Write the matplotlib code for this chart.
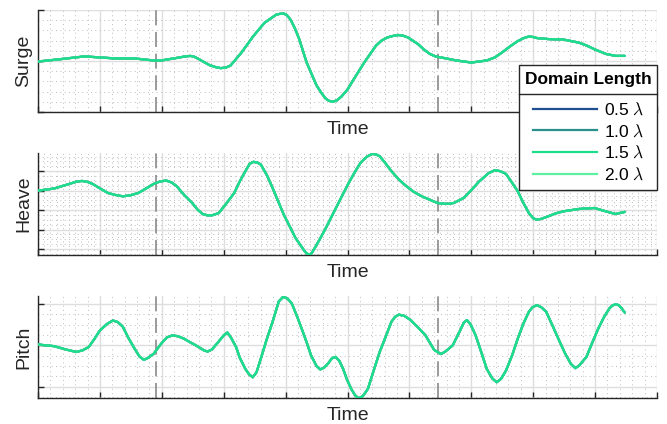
import numpy as np
import matplotlib
matplotlib.use("Agg")
import matplotlib.pyplot as plt
from matplotlib.ticker import MultipleLocator
from matplotlib.lines import Line2D
from matplotlib.patches import Rectangle

plt.rcParams['font.family'] = ['Liberation Sans', 'DejaVu Sans']
plt.rcParams['mathtext.fontset'] = 'cm'

# ---------------- data ----------------
series_labels = [r'0.5 $\lambda$', r'1.0 $\lambda$', r'1.5 $\lambda$', r'2.0 $\lambda$']
series_colors = ['#1f4f8f', '#2b8f8c', '#1ddc8c', '#5cf2a2']
legend_title = 'Domain Length'
panel_names = ['Surge', 'Heave', 'Pitch']
event_times = [1.9, 6.46]

surge_t = [0, 0.32, 0.75, 1.0, 1.25, 1.56, 1.87, 1.99, 2.24, 2.38, 2.46, 2.52, 2.58, 2.68,
           2.77, 2.87, 2.95, 3.03, 3.11, 3.29, 3.48, 3.66, 3.85, 3.91, 3.97, 4.02, 4.08,
           4.15, 4.22, 4.34, 4.50, 4.58, 4.65, 4.70, 4.76, 4.83, 4.90, 5.0, 5.09, 5.27,
           5.46, 5.55, 5.64, 5.73, 5.82, 5.90, 5.98, 6.14, 6.23, 6.33, 6.42, 6.51, 6.76,
           7.0, 7.25, 7.38, 7.50, 7.63, 7.75, 7.85, 7.93, 8.0, 8.06, 8.24, 8.49, 8.74,
           8.87, 8.99, 9.17, 9.33, 9.48]
surge_v = [-0.01, 0.03, 0.09, 0.07, 0.05, 0.05, 0.01, 0.01, 0.06, 0.09, 0.10, 0.085, 0.05, -0.02,
           -0.08, -0.12, -0.14, -0.13, -0.09, 0.17, 0.49, 0.75, 0.91, 0.925, 0.93, 0.90, 0.81,
           0.64, 0.43, -0.03, -0.48, -0.63, -0.74, -0.78, -0.80, -0.77, -0.70, -0.56, -0.38, -0.03,
           0.30, 0.40, 0.46, 0.49, 0.51, 0.495, 0.46, 0.33, 0.23, 0.14, 0.09, 0.07, 0.01,
           -0.03, 0.01, 0.07, 0.17, 0.29, 0.39, 0.45, 0.48, 0.47, 0.45, 0.43, 0.42, 0.36,
           0.30, 0.23, 0.14, 0.10, 0.10]

heave_t = [0, 0.26, 0.51, 0.62, 0.71, 0.80, 0.88, 1.0, 1.13, 1.25, 1.37, 1.49, 1.62, 1.75,
           1.87, 1.97, 2.07, 2.16, 2.24, 2.36, 2.49, 2.58, 2.66, 2.74, 2.82, 2.92, 3.04,
           3.17, 3.26, 3.35, 3.42, 3.48, 3.54, 3.60, 3.70, 3.79, 3.97, 4.16, 4.31, 4.34,
           4.38, 4.42, 4.47, 4.56, 4.65, 4.84, 5.02, 5.12, 5.21, 5.31, 5.40, 5.46, 5.52,
           5.61, 5.71, 5.83, 5.95, 6.07, 6.20, 6.45, 6.54, 6.63, 6.72, 6.88, 7.0, 7.13,
           7.28, 7.38, 7.47, 7.56, 7.65, 7.75, 7.84, 7.93, 8.0, 8.06, 8.13, 8.24, 8.36,
           8.49, 8.74, 8.99, 9.17, 9.33, 9.48]
heave_v = [3.0, 3.11, 3.35, 3.46, 3.50, 3.45, 3.35, 3.12, 2.88, 2.78, 2.71, 2.76, 2.88, 3.12,
           3.35, 3.47, 3.52, 3.42, 3.23, 2.78, 2.37, 2.02, 1.80, 1.73, 1.74, 1.85, 2.33,
           2.88, 3.48, 4.0, 4.38, 4.48, 4.45, 4.34, 3.78, 3.14, 1.77, 0.57, -0.12, -0.22,
           -0.29, -0.22, 0.05, 0.55, 1.08, 2.28, 3.40, 3.96, 4.43, 4.74, 4.89, 4.86, 4.77,
           4.42, 4.0, 3.57, 3.23, 2.94, 2.71, 2.37, 2.33, 2.32, 2.37, 2.63, 3.03, 3.48,
           3.90, 4.05, 4.0, 3.86, 3.45, 2.97, 2.38, 1.85, 1.58, 1.51, 1.55, 1.68, 1.83,
           1.94, 2.06, 2.11, 1.94, 1.80, 1.91]

pitch_t = [0, 0.26, 0.45, 0.62, 0.72, 0.82, 0.91, 1.0, 1.12, 1.21, 1.29, 1.37, 1.46, 1.56,
           1.64, 1.71, 1.78, 1.87, 1.93, 1.99, 2.08, 2.17, 2.26, 2.36, 2.45, 2.55, 2.68,
           2.74, 2.81, 2.89, 3.0, 3.06, 3.12, 3.20, 3.26, 3.35, 3.41, 3.47, 3.53, 3.60,
           3.69, 3.79, 3.89, 3.96, 4.03, 4.10, 4.19, 4.28, 4.35, 4.41, 4.50, 4.56, 4.62,
           4.68, 4.75, 4.81, 4.87, 4.93, 4.99, 5.06, 5.12, 5.18, 5.25, 5.33, 5.42, 5.52,
           5.62, 5.71, 5.77, 5.83, 5.92, 6.02, 6.14, 6.26, 6.40, 6.51, 6.58, 6.70, 6.76,
           6.82, 6.88, 6.93, 6.99, 7.07, 7.16, 7.25, 7.34, 7.41, 7.48, 7.56, 7.66, 7.75,
           7.84, 7.93, 7.99, 8.06, 8.13, 8.21, 8.32, 8.43, 8.52, 8.61, 8.68, 8.74, 8.86,
           8.95, 9.05, 9.14, 9.23, 9.28, 9.33, 9.38, 9.42, 9.48]
pitch_v = [0.02, -0.02, -0.10, -0.16, -0.12, -0.04, 0.15, 0.36, 0.52, 0.60, 0.56, 0.45, 0.18, -0.08,
           -0.27, -0.35, -0.30, -0.20, -0.08, 0.04, 0.19, 0.24, 0.22, 0.16, 0.08, 0.0, -0.12,
           -0.15, -0.10, 0.04, 0.24, 0.31, 0.18, -0.04, -0.30, -0.57, -0.70, -0.77, -0.65, -0.32,
           0.12, 0.57, 1.06, 1.17, 1.13, 1.01, 0.68, 0.32, 0.03, -0.24, -0.50, -0.58, -0.54,
           -0.45, -0.31, -0.28, -0.38, -0.57, -0.82, -1.05, -1.20, -1.28, -1.22, -1.05, -0.62, -0.16,
           0.22, 0.57, 0.69, 0.74, 0.71, 0.61, 0.43, 0.24, -0.11, -0.21, -0.15, 0.0, 0.18,
           0.36, 0.55, 0.61, 0.50, 0.24, -0.16, -0.57, -0.80, -0.89, -0.81, -0.61, -0.24, 0.16,
           0.52, 0.81, 0.92, 0.97, 0.92, 0.81, 0.45, 0.08, -0.21, -0.45, -0.55, -0.49, -0.28,
           0.05, 0.40, 0.67, 0.89, 0.96, 0.99, 0.97, 0.91, 0.79]

panels = [(surge_t, surge_v), (heave_t, heave_v), (pitch_t, pitch_v)]
ylims = [(-1.0, 1.0), (-0.32, 4.95), (-1.27, 1.19)]
ymajor = [1.0, 1.0, 1.0]
yminor = [0.2, 0.25, 0.25]
xminor = [0.2, 0.1, 0.2]

# ---------------- figure ----------------
W, H = 667, 424
fig = plt.figure(figsize=(W / 100, H / 100), dpi=100)

boxes_px = [(10, 112), (152.7, 255.3), (296, 398)]
left_px, right_px = 38, 657

for i, (top, bot) in enumerate(boxes_px):
    ax = fig.add_axes([left_px / W, 1 - bot / H, (right_px - left_px) / W, (bot - top) / H])
    t, v = panels[i]
    order = [0, 1, 3, 2]
    for z, k in enumerate(order):
        ax.plot(t, v, color=series_colors[k], lw=1.6, zorder=3 + z,
                solid_joinstyle='round', solid_capstyle='round')
    for et in event_times:
        ax.axvline(et, color='#8a8a8a', lw=1.2, dashes=(9, 4), zorder=2)
    ax.set_xlim(0, 10)
    ax.set_ylim(*ylims[i])
    ax.xaxis.set_major_locator(MultipleLocator(1))
    ax.xaxis.set_minor_locator(MultipleLocator(xminor[i]))
    ax.yaxis.set_major_locator(MultipleLocator(ymajor[i]))
    ax.yaxis.set_minor_locator(MultipleLocator(yminor[i]))
    ax.grid(which='major', color='#dedede', lw=1.0, zorder=0)
    ax.grid(which='minor', color='#bdbdbd', lw=0.7, linestyle=(0, (1, 3.5)), zorder=0)
    ax.set_axisbelow(True)
    ax.tick_params(which='major', direction='in', length=4.5, width=1.0, color='#262626',
                   labelbottom=False, labelleft=False, top=False, right=False)
    ax.tick_params(which='minor', length=0)
    for s in ['top', 'right']:
        ax.spines[s].set_visible(False)
    for s in ['left', 'bottom']:
        ax.spines[s].set_color('#262626')
        ax.spines[s].set_linewidth(1.0)
    ax.set_xlabel('Time', fontsize=14, color='#262626', labelpad=3)
    ax.set_ylabel(panel_names[i], fontsize=14, color='#262626', labelpad=1)

# ---------------- legend ----------------
lx0, lx1, ly0, ly1, lsep = 519, 657, 65, 190, 94
fig.add_artist(Rectangle((lx0 / W, 1 - ly1 / H), (lx1 - lx0) / W, (ly1 - ly0) / H,
                         transform=fig.transFigure, facecolor='white', edgecolor='#262626',
                         lw=1.0, zorder=8))
fig.add_artist(Line2D([lx0 / W, lx1 / W], [1 - lsep / H, 1 - lsep / H], color='#262626',
                      lw=1.0, transform=fig.transFigure, zorder=9))
fig.text((lx0 + lx1) / 2 / W, 1 - (ly0 + lsep) / 2 / H, legend_title, ha='center', va='center',
         fontsize=12.5, fontweight='bold', color='black', zorder=9)
handles = [Line2D([], [], color=series_colors[k], lw=1.6) for k in range(4)]
leg = fig.legend(handles, series_labels, loc='center',
                 bbox_to_anchor=((lx0 + lx1) / 2 / W + 0.001, 1 - (lsep + ly1) / 2 / H),
                 fontsize=12.5, frameon=False, handlelength=3.7, handletextpad=0.35,
                 labelspacing=0.3, borderpad=0, borderaxespad=0)
leg.set_zorder(10)

fig.savefig('out.png', dpi=100)
